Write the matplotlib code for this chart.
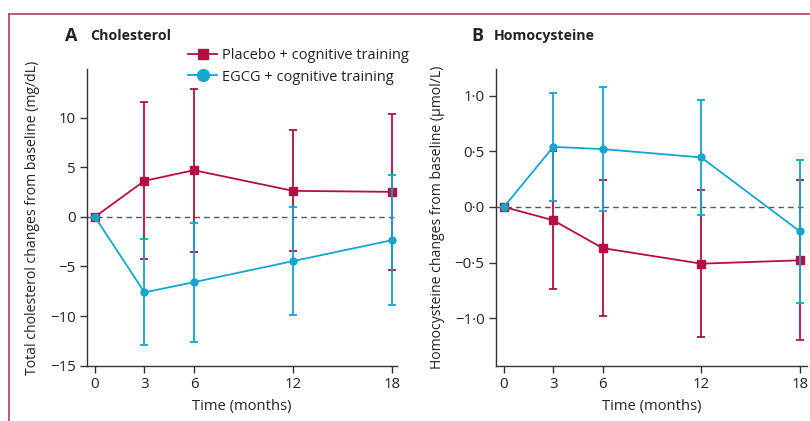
import matplotlib
matplotlib.use("Agg")
import matplotlib.pyplot as plt
from matplotlib.lines import Line2D

plt.rcParams['font.family'] = ['Open Sans', 'DejaVu Sans']

months = [0, 3, 6, 12, 18]

# Panel A: cholesterol (mg/dL)
chol_placebo = [0, 3.63, 4.7, 2.62, 2.52]
chol_placebo_err = [0, 7.9, 8.2, 6.1, 7.85]
chol_egcg = [0, -7.61, -6.58, -4.46, -2.35]
chol_egcg_err = [0, 5.33, 6.0, 5.43, 6.55]
chol_yticks = [10, 5, 0, -5, -10, -15]
chol_yticklabels = ["10", "5", "0", "\u22125", "\u221210", "\u221215"]

# Panel B: homocysteine (umol/L)
hcy_placebo = [0, -0.12, -0.37, -0.51, -0.48]
hcy_placebo_err = [0, 0.62, 0.61, 0.66, 0.72]
hcy_egcg = [0, 0.54, 0.52, 0.445, -0.22]
hcy_egcg_err = [0, 0.485, 0.56, 0.52, 0.645]
hcy_yticks = [1.0, 0.5, 0.0, -0.5, -1.0]
hcy_yticklabels = ["1\u00b70", "0\u00b75", "0\u00b70", "\u22120\u00b75", "\u22121\u00b70"]

labels = ["Placebo + cognitive training", "EGCG + cognitive training"]

CRIMSON = "#b30f42"
TEAL = "#14a6cc"
SPINE = "#333333"
TEXT = "#222222"

W, H = 810, 421
fig = plt.figure(figsize=(W / 100, H / 100), dpi=100)

def px_axes(l, t, r, b):
    return fig.add_axes([l / W, 1 - b / H, (r - l) / W, (b - t) / H])

def style(ax, xlim, ylim, yticks, yticklabels, ylabel, ylabel_x):
    ax.set_xlim(*xlim)
    ax.set_ylim(*ylim)
    ax.set_xticks(months)
    ax.set_xticklabels([str(m) for m in months])
    ax.set_yticks(yticks)
    ax.set_yticklabels(yticklabels)
    for s in ["top", "right"]:
        ax.spines[s].set_visible(False)
    for s in ["left", "bottom"]:
        ax.spines[s].set_color(SPINE)
        ax.spines[s].set_linewidth(1.0)
    ax.tick_params(axis="both", direction="out", length=5, width=1.0,
                   color=SPINE, labelsize=10.8, labelcolor=TEXT, pad=3)
    ax.axhline(0, color="#4d5a66", lw=1.0, ls=(0, (4, 3)), zorder=1)
    ax.set_xlabel("Time (months)", fontsize=10.6, color=TEXT)
    ax.xaxis.set_label_coords(0.5, -0.112)
    ax.set_ylabel(ylabel, fontsize=10.1, color=TEXT)
    ax.yaxis.set_label_coords(ylabel_x, 0.5)

def draw(ax, y1, e1, y2, e2):
    ax.errorbar(months, y1, yerr=e1, color=CRIMSON, lw=1.3, elinewidth=1.3,
                capsize=3, capthick=1.3, marker="s", markersize=5.5,
                markerfacecolor=CRIMSON, markeredgecolor=CRIMSON, zorder=3)
    ax.errorbar(months, y2, yerr=e2, color=TEAL, lw=1.3, elinewidth=1.3,
                capsize=3, capthick=1.3, marker="o", markersize=5,
                markerfacecolor=TEAL, markeredgecolor=TEAL, zorder=4)

axA = px_axes(87, 69, 397, 366)
style(axA, (-0.48, 18.3), (-15.03, 14.9), chol_yticks, chol_yticklabels,
      "Total cholesterol changes from baseline (mg/dL)", -0.150)
draw(axA, chol_placebo, chol_placebo_err, chol_egcg, chol_egcg_err)

axB = px_axes(495.7, 69, 807, 366)
style(axB, (-0.5, 18.43), (-1.43, 1.24), hcy_yticks, hcy_yticklabels,
      "Homocysteine changes from baseline (\u03bcmol/L)", -0.164)
draw(axB, hcy_placebo, hcy_placebo_err, hcy_egcg, hcy_egcg_err)

handles = [
    Line2D([], [], color=CRIMSON, lw=1.3, marker="s", markersize=7.5),
    Line2D([], [], color=TEAL, lw=1.3, marker="o", markersize=8.5),
]
axA.legend(handles, labels, loc="upper left",
           bbox_to_anchor=(188 / W, 1 - 48 / H), bbox_transform=fig.transFigure,
           frameon=False, fontsize=10.5, handlelength=2.0, handletextpad=0.3,
           labelspacing=0.45, borderpad=0, borderaxespad=0, labelcolor=TEXT)

# Panel titles
fig.text(65 / W, 1 - 36 / H, "A", fontsize=13, fontweight="bold", va="center", color=TEXT)
fig.text(90 / W, 1 - 36 / H, "Cholesterol", fontsize=10.2, fontweight="bold", va="center", color=TEXT)
fig.text(471 / W, 1 - 36 / H, "B", fontsize=13, fontweight="bold", va="center", color=TEXT)
fig.text(494 / W, 1 - 36 / H, "Homocysteine", fontsize=10.2, fontweight="bold", va="center", color=TEXT)

# Frame border (top and left)
BORDER = "#c4365f"
fig.add_artist(Line2D([8.5 / W, 1], [1 - 13.5 / H, 1 - 13.5 / H], color=BORDER, lw=1.2,
                      transform=fig.transFigure))
fig.add_artist(Line2D([8.5 / W, 8.5 / W], [0, 1 - 13.5 / H], color=BORDER, lw=1.2,
                      transform=fig.transFigure))

fig.savefig("out.png", dpi=100)
